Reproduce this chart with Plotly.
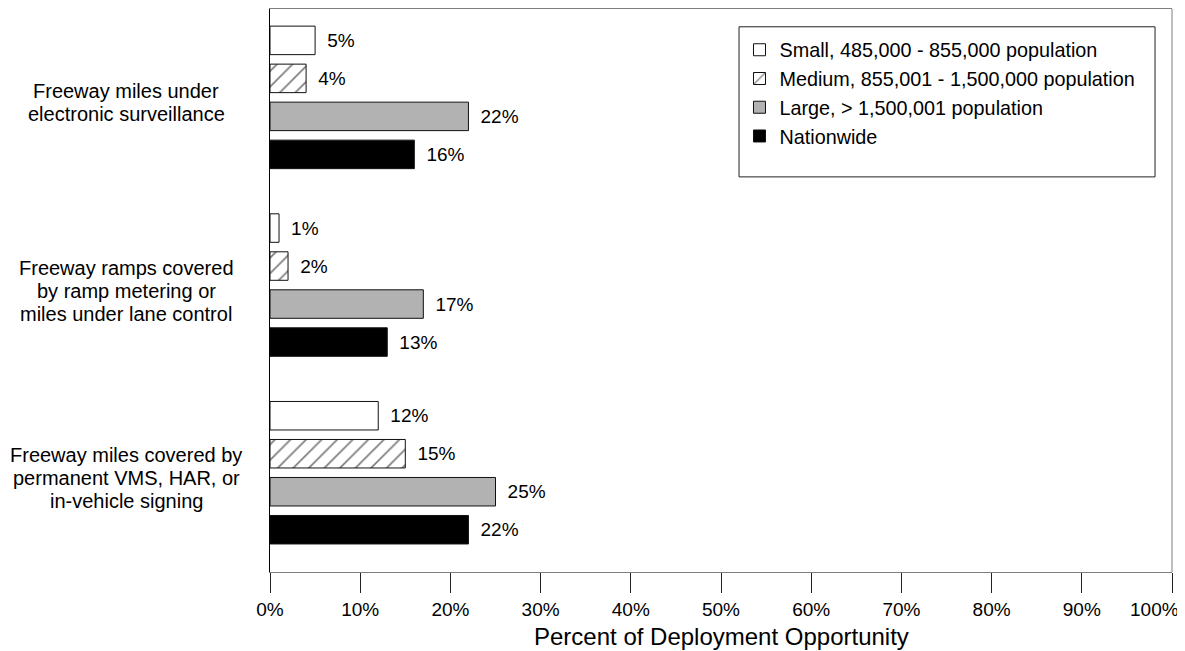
import plotly.graph_objects as go

categories = [
    "Freeway miles under<br>electronic surveillance",
    "Freeway ramps covered<br>by ramp metering or<br>miles under lane control",
    "Freeway miles covered by<br>permanent VMS, HAR, or<br>in-vehicle signing",
]
series_names = [
    "Small, 485,000 - 855,000 population",
    "Medium, 855,001 - 1,500,000 population",
    "Large, > 1,500,001 population",
    "Nationwide",
]
small = [5, 1, 12]
medium = [4, 2, 15]
large = [22, 17, 25]
nationwide = [16, 13, 22]
x_ticks = list(range(0, 101, 10))
x_tick_labels = [f"{v}%" for v in x_ticks]
x_title = "Percent of Deployment Opportunity"

font = "Liberation Sans, Arial, sans-serif"
fs = 19
fig = go.Figure()
styles = [
    dict(color="white", pattern=None),
    dict(color="white", pattern=dict(shape="/", fgcolor="black", bgcolor="white", size=11, solidity=0.16)),
    dict(color="#b2b2b2", pattern=None),
    dict(color="black", pattern=None),
]
for i, (name, vals) in enumerate(zip(series_names, [small, medium, large, nationwide])):
    marker = dict(color=styles[i]["color"], line=dict(color="#111", width=1))
    if styles[i]["pattern"]:
        marker["pattern"] = styles[i]["pattern"]
    fig.add_trace(go.Bar(
        y=list(range(len(categories))), x=vals, name=name, orientation="h",
        marker=marker, legendgroup=f"g{i}",
        text=[f"\u00a0\u2009{v}%" for v in vals], textposition="outside",
        textfont=dict(family=font, size=fs, color="black"), cliponaxis=False,
    ))

# category labels, centred, line by line
n = len(categories)
line_gap = 23
for i, c in enumerate(categories):
    lines = c.split("<br>")
    yc = 1 - (i + 0.5) / n
    for j, ln in enumerate(lines):
        fig.add_annotation(x=-0.1596, xref="paper", y=yc, yref="paper", text=ln, showarrow=False,
                           xanchor="center", yanchor="middle",
                           yshift=((len(lines) - 1) / 2 - j) * line_gap,
                           font=dict(family=font, size=20, color="black"))

# last tick label is pulled inside the page, as in the original
shown_ticktext = x_tick_labels[:-1] + [""]
fig.add_annotation(x=x_ticks[-1], xref="x", y=0, yref="paper", text=x_tick_labels[-1],
                   showarrow=False, xanchor="right", yanchor="top", yshift=-25, xshift=9,
                   font=dict(family=font, size=fs, color="black"))

# axis title
fig.add_annotation(x=0.5, xref="paper", y=-0.114, yref="paper", text=x_title, showarrow=False,
                   xanchor="center", yanchor="middle", font=dict(family=font, size=24, color="black"))

# legend frame
fig.add_shape(type="rect", xref="paper", yref="paper", x0=0.52, x1=0.9812, y0=0.7018, y1=0.9684,
              line=dict(color="#222", width=1), fillcolor="white", layer="below")
# right frame line
fig.add_shape(type="line", xref="paper", yref="paper", x0=1, x1=1, y0=0, y1=1,
              line=dict(color="#7f7f7f", width=1))

fig.update_layout(
    width=1177, height=643,
    margin=dict(l=262, r=13, t=1, b=79),
    paper_bgcolor="white", plot_bgcolor="rgba(0,0,0,0)",
    barmode="group", bargap=0.19, bargroupgap=0.25,
    font=dict(family=font, size=fs, color="black"),
    legend=dict(x=0.5205, y=0.962, xanchor="left", yanchor="top",
                borderwidth=0, bgcolor="rgba(0,0,0,0)",
                font=dict(family=font, size=19.8), tracegroupgap=19,
                traceorder="normal"),
    xaxis=dict(range=[0, 100], tickvals=x_ticks, ticktext=shown_ticktext,
               ticks="outside", ticklen=20, tickcolor="#222",
               showgrid=False, zeroline=False, showline=True, linecolor="#7f7f7f", mirror=True,
               tickfont=dict(size=fs)),
    yaxis=dict(range=[2.529, -0.471], showticklabels=False, ticks="", showgrid=False, zeroline=False,
               showline=True, linecolor="black", mirror=False),
)
fig.write_html("out.html")
